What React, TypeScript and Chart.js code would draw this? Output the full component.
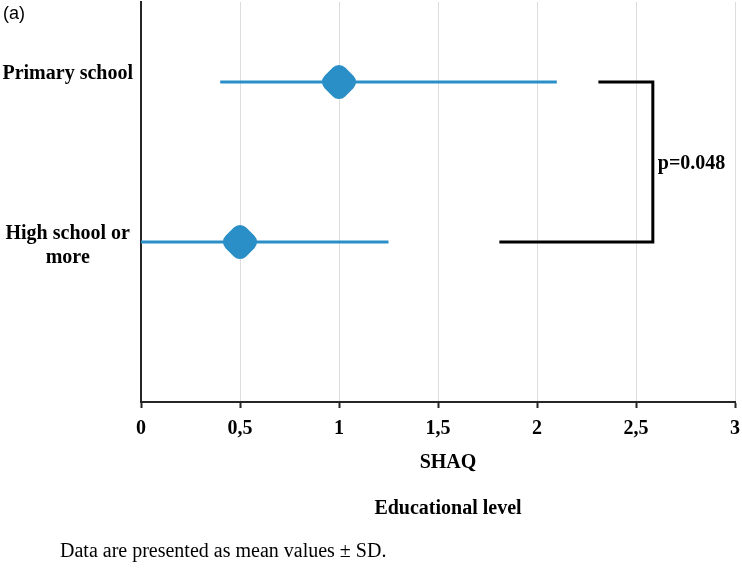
import React, { useEffect, useRef } from 'react';
import { Chart, registerables } from 'chart.js';

Chart.register(...registerables);

const CATEGORIES = ['Primary school', 'High school or more'];
const CATEGORY_LINES = [['Primary school', ''], ['High school or', 'more']];
const CATEGORY_POS = [2, 1];
const MEANS = [1.0, 0.5];
const LOWER = [0.4, 0.0];
const UPPER = [2.1, 1.25];
const X_TICKS = [0, 0.5, 1, 1.5, 2, 2.5, 3];
const BRACKET_X = [2.31, 2.585, 2.585, 1.81];
const BRACKET_POS = [2, 2, 1, 1];
const P_LABEL = 'p=0.048';
const X_TITLE = 'SHAQ';
const GROUP_TITLE = 'Educational level';
const FOOTNOTE = 'Data are presented as mean values \u00b1 SD.';
const PANEL = '(a)';

const BLUE = '#2b8fc7';
const SERIF = "'Liberation Serif', 'Times New Roman', serif";

export default function App() {
  const ref = useRef<HTMLCanvasElement | null>(null);

  useEffect(() => {
    if (!ref.current) return;
    const pLabelPlugin = {
      id: 'pLabel',
      afterDatasetsDraw(chart: any) {
        const { ctx, scales } = chart;
        const x = scales.x.getPixelForValue(BRACKET_X[1]) + 5;
        const y = (scales.y.getPixelForValue(BRACKET_POS[1]) + scales.y.getPixelForValue(BRACKET_POS[2])) / 2 + 2;
        ctx.save();
        ctx.font = `bold 20px ${SERIF}`;
        ctx.fillStyle = '#000';
        ctx.textAlign = 'left';
        ctx.textBaseline = 'middle';
        ctx.fillText(P_LABEL, x, y);
        ctx.restore();
      },
    };

    const datasets: any[] = [
      {
        label: 'Mean',
        data: CATEGORIES.map((_, i) => ({ x: MEANS[i], y: CATEGORY_POS[i] })),
        pointStyle: 'rectRounded',
        pointRotation: 45,
        pointRadius: 17,
        pointBackgroundColor: BLUE,
        pointBorderColor: BLUE,
        pointBorderWidth: 0,
        showLine: false,
        clip: false,
      },
      ...CATEGORIES.map((c, i) => ({
        label: c + ' SD',
        data: [
          { x: LOWER[i], y: CATEGORY_POS[i] },
          { x: UPPER[i], y: CATEGORY_POS[i] },
        ],
        showLine: true,
        borderColor: BLUE,
        borderWidth: 3,
        pointRadius: 0,
        clip: false,
      })),
      {
        label: 'Bracket',
        data: BRACKET_X.map((x, i) => ({ x, y: BRACKET_POS[i] })),
        showLine: true,
        borderColor: '#000',
        borderWidth: 3,
        borderJoinStyle: 'miter',
        pointRadius: 0,
        clip: false,
      },
    ];

    const chart = new Chart(ref.current, {
      type: 'scatter',
      data: { datasets },
      plugins: [pLabelPlugin],
      options: {
        animation: false,
        responsive: false,
        layout: { autoPadding: false, padding: { left: 0, right: 7, top: 2, bottom: 132 } },
        plugins: { legend: { display: false }, tooltip: { enabled: false } },
        scales: {
          x: {
            type: 'linear',
            min: 0,
            max: 3,
            afterBuildTicks: (scale: any) => {
              scale.ticks = X_TICKS.map((v) => ({ value: v }));
            },
            afterFit: (scale: any) => {
              scale.height = 40;
              scale.paddingLeft = 0;
              scale.paddingRight = 0;
            },
            grid: {
              color: (ctx: any) => (ctx.tick && ctx.tick.value === 0 ? 'rgba(0,0,0,0)' : '#dcdcdc'),
              lineWidth: 1,
              drawTicks: true,
              tickLength: 6,
              tickColor: '#262626',
              tickWidth: 2,
            },
            border: { display: true, color: '#262626', width: 2 },
            ticks: {
              padding: 9,
              color: '#000',
              font: { family: SERIF, size: 20, weight: 'bold' },
              callback: (v: any) => String(v).replace('.', ','),
            },
          },
          y: {
            type: 'linear',
            min: 0,
            max: 2.5,
            afterBuildTicks: (scale: any) => {
              scale.ticks = CATEGORY_POS.map((v) => ({ value: v }));
            },
            afterFit: (scale: any) => {
              scale.width = 141;
              scale.paddingTop = 0;
              scale.paddingBottom = 0;
            },
            grid: { display: true, color: 'rgba(0,0,0,0)', drawTicks: false },
            border: { display: true, color: '#262626', width: 2 },
            ticks: {
              padding: 8,
              labelOffset: 4,
              crossAlign: 'center',
              color: '#000',
              font: { family: SERIF, size: 20, weight: 'bold' },
              callback: (v: any) => {
                const i = CATEGORY_POS.indexOf(v);
                return i >= 0 ? CATEGORY_LINES[i] : '';
              },
            },
          },
        },
      } as any,
    });
    return () => chart.destroy();
  }, []);

  const base: React.CSSProperties = { position: 'absolute', whiteSpace: 'nowrap', color: '#000', lineHeight: '24px' };

  return (
    <div style={{ position: 'absolute', left: 0, top: 0, width: 742, height: 574, background: '#fff' }}>
      <canvas ref={ref} width={742} height={574} style={{ position: 'absolute', left: 0, top: 0 }} />
      <div style={{ ...base, left: 3, top: 1, fontFamily: "'Liberation Sans', Arial, sans-serif", fontSize: 18 }}>{PANEL}</div>
      <div style={{ ...base, left: 348, width: 200, textAlign: 'center', top: 449, fontFamily: SERIF, fontWeight: 'bold', fontSize: 20 }}>{X_TITLE}</div>
      <div style={{ ...base, left: 348, width: 200, textAlign: 'center', top: 495, fontFamily: SERIF, fontWeight: 'bold', fontSize: 20 }}>{GROUP_TITLE}</div>
      <div style={{ ...base, left: 60, top: 538, fontFamily: SERIF, fontSize: 20 }}>{FOOTNOTE}</div>
    </div>
  );
}
